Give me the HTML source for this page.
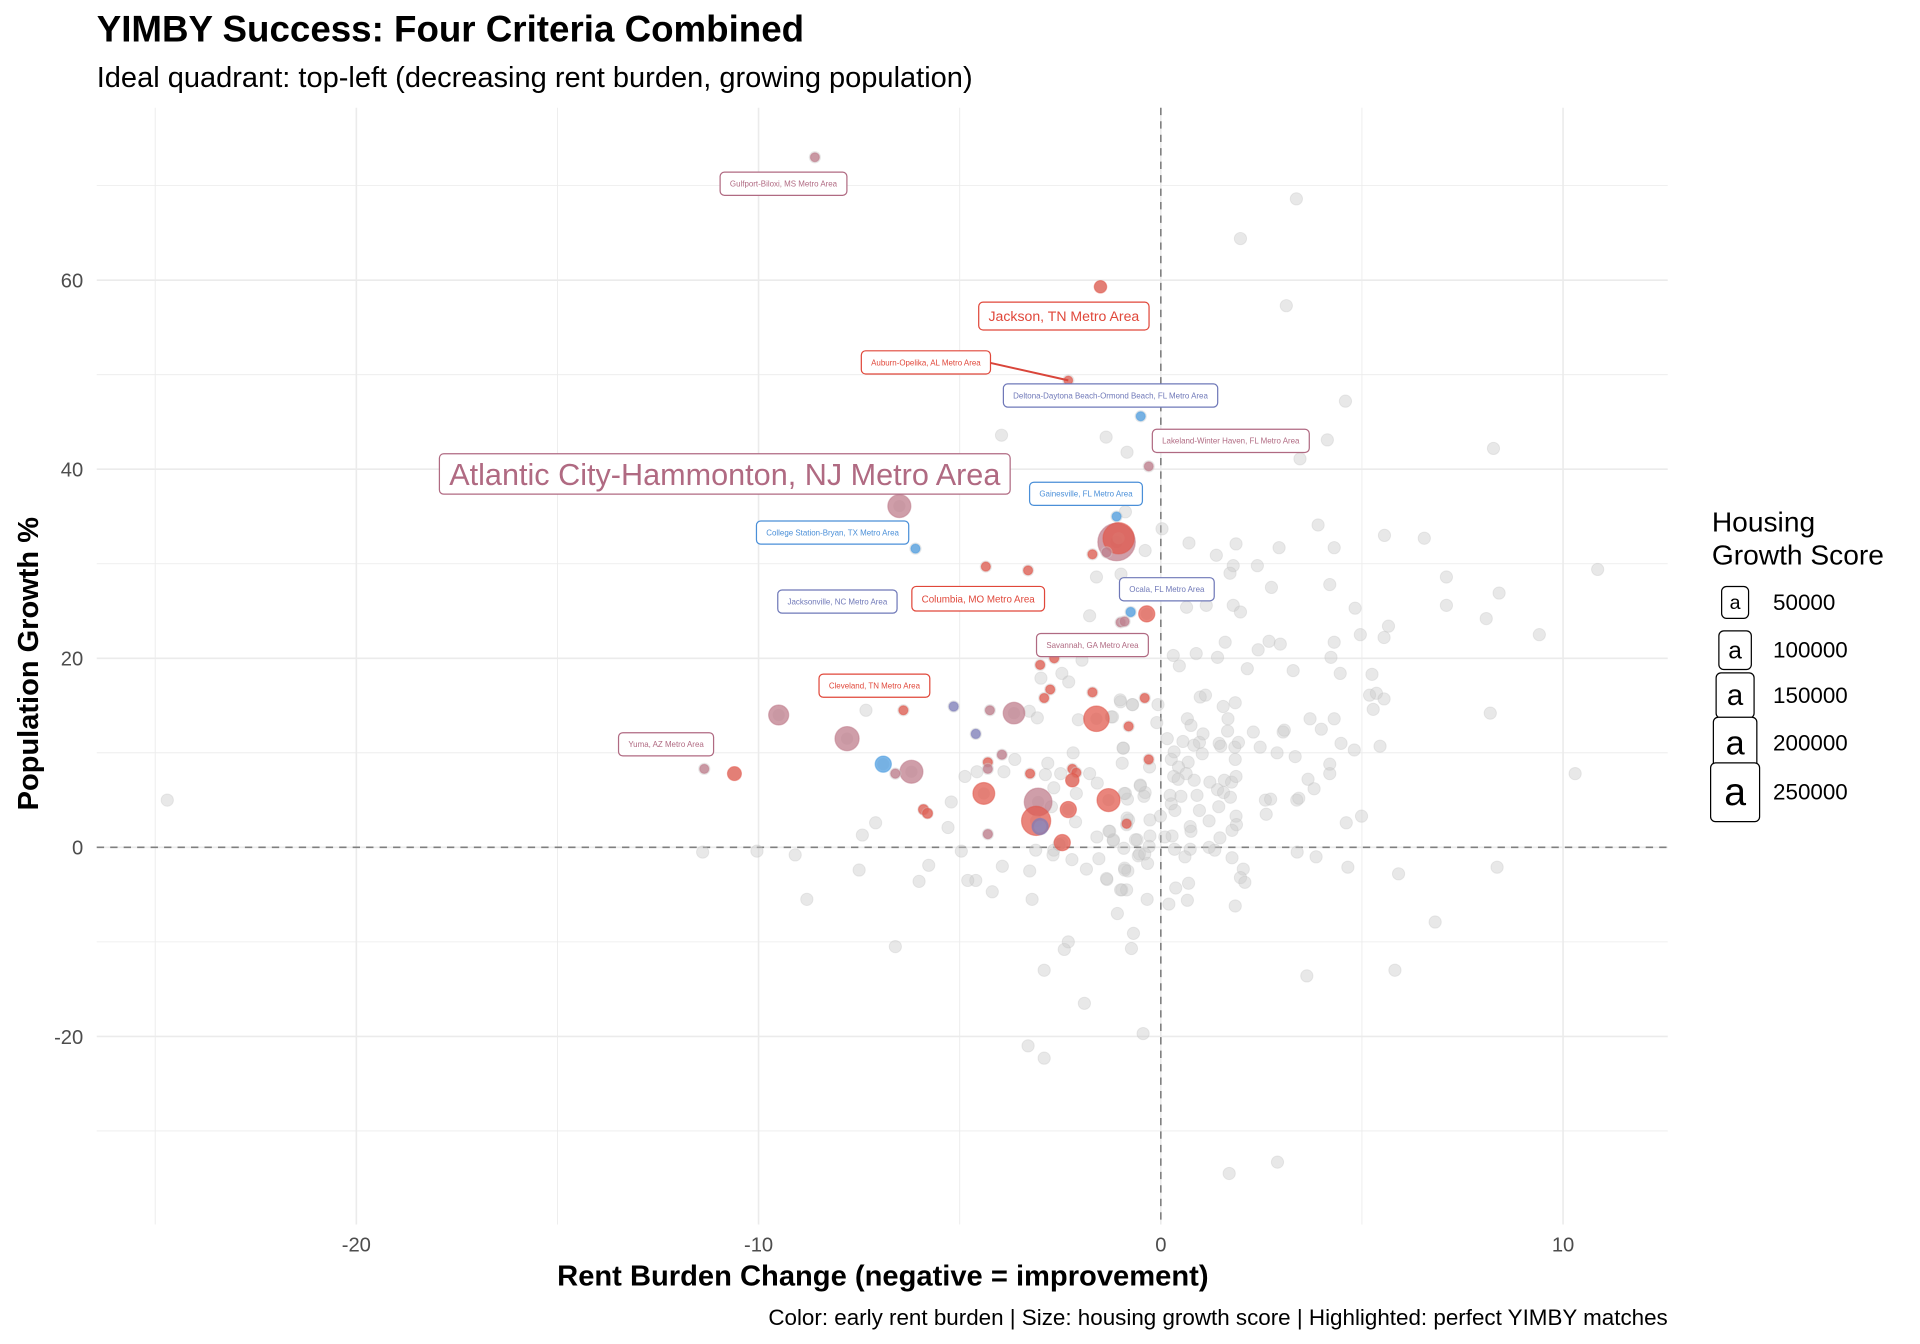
<!DOCTYPE html>
<html><head><meta charset="utf-8"><title>YIMBY Success</title>
<style>
html,body{margin:0;padding:0;background:#fff;}
svg{display:block;font-family:"Liberation Sans",Arial,sans-serif;}
</style></head>
<body>
<svg id="chart" width="1920" height="1344" viewBox="0 0 1568 1097.6" xmlns="http://www.w3.org/2000/svg">
<rect x="0" y="0" width="1568" height="1097.6" fill="#fff"/>
<text x="79" y="34" font-size="30" font-weight="bold" fill="#000">YIMBY Success: Four Criteria Combined</text>
<text x="79" y="71" font-size="23.7" fill="#000">Ideal quadrant: top-left (decreasing rent burden, growing population)</text>
<g id="grid"></g>
<g id="refs"></g>
<g id="grey"></g>
<g id="hi"></g>
<g id="labels"></g>
<g id="ticks"></g>
<text x="721" y="1050" font-size="23.8" font-weight="bold" text-anchor="middle" fill="#000">Rent Burden Change (negative = improvement)</text>
<text transform="translate(31,542) rotate(-90)" font-size="23.7" font-weight="bold" text-anchor="middle" fill="#000">Population Growth %</text>
<text x="1362" y="1082" font-size="18.3" text-anchor="end" fill="#000">Color: early rent burden | Size: housing growth score | Highlighted: perfect YIMBY matches</text>
<g>
<text x="1398" y="434" font-size="23" fill="#000">Housing</text>
<text x="1398" y="461" font-size="23" fill="#000">Growth Score</text>
<g id="legend"></g>
</g>
</svg>
<script>
// ---- data ----
const greyX=[3.37,1.98,3.12,4.59,4.14,3.46,8.27,-1.36,-0.84,0.03,0.7,1.38,1.87,2.94,3.91,4.31,5.56,6.55,-0.39,-0.99,-0.88,1.8,2.4,1.72,10.86,7.1,2.75,4.2,8.41,
0.64,1.13,1.8,1.98,4.83,7.1,8.09,5.66,5.55,4.96,9.41,4.31,2.69,2.97,2.42,1.6,0.31,0.88,1.41,0.46,4.23,2.15,3.29,4.46,5.25,5.19,5.36,5.55,5.28,8.19,0.98,1.11,1.55,1.85,-1,-0.7,-0.07,-1.23,-0.1,0.66,0.75,1.67,1.66,1.05,0.96,2.3,3.04,3.07,3.71,3.99,4.31,0.16,0.55,0.82,1.45,1.49,1.84,1.93,2.47,2.89,3.34,4.48,4.81,5.45,-0.93,-0.96,0.33,0.26,0.68,1.03,1.85,-0.28,0.44,0.63,0.32,0.43,0.83,1.22,1.58,1.76,1.87,-0.51,-0.39,-0.88,-0.83,0.23,0.5,0.9,1.41,1.56,1.73,1.44,0.26,0.35,0.96,1.87,1.88,1.2,2.6,2.73,3.38,3.43,3.66,3.81,4.2,4.2,2.62,4.61,4.99,10.3,-0.27,-0.01,-0.85,-0.8,0.73,0.75,1.77,1.47,0.28,-0.27,-0.59,-1.18,-1.27,0.34,0.73,1.2,1.34,0.1,-0.92,-0.56,-0.33,0.6,1.77,2.05,3.39,3.86,4.65,5.91,8.36,-0.9,-0.82,-1.34,-0.97,-0.85,0.37,0.69,0.66,1.98,2.09,-0.34,0.2,1.85,-1.08,6.82,-0.68,-0.73,3.63,5.82,-0.44,
-1.6,-1.77,-1.96,-2.46,-2.98,-2.29,-1.01,-0.71,-1.2,-3.27,-3.07,-2.05,-7.33,-0.94,-2.81,-2.18,-3.63,-3.9,-4.87,-4.57,-2.87,-2.49,-1.77,-1.58,-2.66,-2.1,-0.91,-0.51,-0.42,-2.12,-2.72,-0.84,-1.59,-1.29,-1.18,-0.63,-5.21,-5.29,-7.09,-7.42,-11.39,-10.04,-9.09,-7.5,-5.77,-6.01,-4.96,-3.94,-3.26,-4.6,-4.19,-2.66,-2.21,-1.85,-1.54,-1.35,-1.0,-0.9,-0.29,-0.53,-2.68,-3.11,-2.53,
-8.8,-6.6,-2.3,-2.4,-2.9,-1.9,-3.3,-2.9,1.7,2.9,-24.7,-3.2,-4.8,-3.96,-0.4];
const greyY=[68.6,64.4,57.3,47.2,43.1,41.1,42.2,43.4,41.8,33.7,32.2,30.9,32.1,31.7,34.1,31.7,33,32.7,31.4,28.9,35.5,29.8,29.8,29,29.4,28.6,27.5,27.8,26.9,
25.4,25.6,25.6,24.9,25.3,25.6,24.2,23.4,22.2,22.5,22.5,21.7,21.8,21.5,20.9,21.7,20.3,20.5,20.1,19.2,20.1,18.9,18.7,18.4,18.3,16.1,16.3,15.7,14.6,14.2,15.9,16.1,14.9,15.3,15.4,15.1,15.1,13.8,13.2,13.6,12.9,13.6,12.3,12,11.1,12.2,12.2,12.4,13.6,12.5,13.6,11.5,11.2,10.8,11,10.7,10.6,11.1,10.6,10,9.6,11,10.3,10.7,10.5,8.9,10.1,9.3,9,9.9,9.3,8.5,8.5,7.8,7.5,7.2,7.1,6.9,7.1,6.9,7.5,6.6,5.8,5.7,5.1,5.5,5.4,5.5,6.1,5.8,5.3,4.3,4.6,3.9,3.9,3.3,2.4,2.8,5,5.1,5,5.2,7.2,6.2,8.8,7.8,3.5,2.6,3.3,7.8,2.9,3.3,2.4,2.9,2.2,1.7,1.8,1,1.2,1.2,0.8,0.7,1.7,-0.2,-0.2,0,-0.3,1.1,-0.1,-0.9,-1.7,-1,-1.1,-2.3,-0.5,-1,-2.1,-2.8,-2.1,-2.2,-2.5,-3.4,-4.5,-4.5,-4.3,-3.8,-5.6,-3.2,-3.7,-5.5,-6,-6.2,-7,-7.9,-9.1,-10.7,-13.6,-13,-19.7,
28.6,24.5,19.8,18.4,17.9,17.5,15.6,15.1,13.8,14.4,13.7,13.5,14.5,10.5,8.9,10,9.3,8,7.5,8,7.7,7.8,7.8,6.8,6.3,5.7,5.7,6.5,5.4,2.7,4.3,3.1,1.1,1.7,0.8,0.8,4.8,2.1,2.6,1.3,-0.5,-0.4,-0.8,-2.4,-1.9,-3.6,-0.4,-2,-2.5,-3.5,-4.7,-0.3,-1.3,-2.3,-1.2,-3.3,-4.5,-2.4,0.1,-0.7,-0.8,-0.3,0.3,
-5.5,-10.5,-10,-10.8,-13,-16.5,-21,-22.3,-34.5,-33.3,5,-5.5,-3.5,43.6,-0.7];
// highlighted YIMBY matches
const hiX=[-8.6,-1.5,-2.3,-0.5,-0.3,-6.5,-1.1,-6.1,-1.1,-1.05,-1.7,-1.35,-4.35,-3.3,-0.75,-1.0,-0.9,-0.35,-3.0,-2.65,-1.7,-0.4,-2.75,-2.9,-5.15,-6.4,-4.25,-3.65,-9.5,-1.6,-0.8,-4.6,-7.8,-3.95,-4.3,-4.3,-11.35,-10.6,-6.9,-6.2,-6.6,-3.25,-2.2,-2.1,-2.2,-0.3,-4.4,-3.05,-3.1,-3.0,-2.3,-1.3,-0.85,-5.9,-5.8,-4.3,-2.45];
const hiY=[73,59.3,49.4,45.6,40.3,36.1,35,31.6,32.3,32.7,31,31.2,29.7,29.3,24.9,23.8,23.9,24.7,19.3,20,16.4,15.8,16.7,15.8,14.9,14.5,14.5,14.2,14,13.6,12.8,12,11.5,9.8,9,8.3,8.3,7.8,8.8,8,7.8,7.8,8.3,7.9,7.1,9.3,5.7,4.8,2.8,2.2,4,5,2.5,4,3.6,1.4,0.5];
const hiScore=[700,5000,500,800,700,42000,800,800,150000,95000,800,900,800,800,900,800,800,14000,800,800,800,800,800,800,900,800,800,35000,28000,56000,800,900,48000,900,800,800,800,8000,14000,42000,900,800,800,800,7000,800,36000,70000,80000,14000,14000,42000,900,1500,1500,900,14000];
const hiCat=["m","r","r","b","m","m","b","b","m","r","r","m","r","r","b","m","m","r","r","r","r","r","r","r","p","r","m","m","m","r","r","p","m","m","r","m","m","r","b","m","m","r","r","r","r","r","r","m","r","p","r","r","r","r","r","m","r"];
// labels
const labText=["Gulfport-Biloxi, MS Metro Area","Jackson, TN Metro Area","Auburn-Opelika, AL Metro Area","Deltona-Daytona Beach-Ormond Beach, FL Metro Area","Lakeland-Winter Haven, FL Metro Area","Atlantic City-Hammonton, NJ Metro Area","Gainesville, FL Metro Area","College Station-Bryan, TX Metro Area","Ocala, FL Metro Area","Jacksonville, NC Metro Area","Columbia, MO Metro Area","Savannah, GA Metro Area","Cleveland, TN Metro Area","Yuma, AZ Metro Area"];
const labX=[-9.38,-2.41,-5.84,-1.25,1.74,-10.84,-1.86,-8.16,0.15,-8.04,-4.54,-1.7,-7.12,-12.3];
const labY=[70.2,56.2,51.3,47.8,43.0,39.5,37.4,33.3,27.3,26.0,26.3,21.4,17.1,10.9];
const labCat=["m","r","r","p","m","m","b","b","p","p","r","m","r","m"];
const labSize=[6.5,11.5,6.5,6.5,6.5,25,6.5,6.5,6.5,6.5,8,6.5,6.5,6.5];
const xTicks=[-20,-10,0,10];
const yTicks=[-20,0,20,40,60];
const legVals=[50000,100000,150000,200000,250000];

// ---- scales ----
const P={l:79,r:1362,t:88,b:1000};
function sx(v){return 948+v*32.85;}
function sy(v){return 692-v*7.72;}
const NS="http://www.w3.org/2000/svg";
function mk(tag,parent,attrs){const e=document.createElementNS(NS,tag);for(const k in attrs)e.setAttribute(k,attrs[k]);parent.appendChild(e);return e;}
const col={r:"#e0564a",m:"#bd7888",b:"#4a9be0",p:"#7b7cba"};
const lcol={r:"#e0473a",m:"#b06a82",b:"#4a8fd8",p:"#6f78b8"};

// grid
const grid=document.getElementById('grid');
for(let v=-25;v<=10;v+=5){
  const l=mk('line',grid,{x1:sx(v),x2:sx(v),y1:P.t,y2:P.b,stroke:'#ebebeb','stroke-width':v%10===0?1.3:0.7});
  
  
}
for(let v=-30;v<=70;v+=10){
  const l=mk('line',grid,{x1:P.l,x2:P.r,y1:sy(v),y2:sy(v),stroke:'#ebebeb','stroke-width':v%20===0?1.3:0.7});
  
  
}
const refs=document.getElementById('refs');
const rv=mk('line',refs,{x1:sx(0),x2:sx(0),y1:P.t,y2:P.b,stroke:'#7f7f7f','stroke-width':1.3,'stroke-dasharray':'6,5'});


const rh=mk('line',refs,{x1:P.l,x2:P.r,y1:sy(0),y2:sy(0),stroke:'#7f7f7f','stroke-width':1.3,'stroke-dasharray':'6,5'});



// grey points
const grey=document.getElementById('grey');
for(let i=0;i<greyX.length;i++){
  const c=mk('circle',grey,{cx:sx(greyX[i]),cy:sy(greyY[i]),r:5,fill:'#c8c8c8','fill-opacity':0.42,stroke:'#bdbdbd','stroke-opacity':0.3,'stroke-width':0.8});
  
  
}
// highlighted points
const hi=document.getElementById('hi');
for(let i=0;i<hiX.length;i++){
  const h=mk('circle',hi,{cx:sx(hiX[i]),cy:sy(hiY[i]),r:5,fill:'#cfcfcf','fill-opacity':0.45});
  
  
  const r=2.8+Math.sqrt(hiScore[i])/31;
  const c=mk('circle',hi,{cx:sx(hiX[i]),cy:sy(hiY[i]),r:r,fill:col[hiCat[i]],'fill-opacity':0.72,stroke:col[hiCat[i]],'stroke-opacity':0.5,'stroke-width':1});
  
  
}
// labels
const labs=document.getElementById('labels');
const seg=mk('line',labs,{x1:sx(labX[2])+51,y1:sy(labY[2]),x2:sx(-2.3),y2:sy(49.4),stroke:'#d9453a','stroke-width':1.6});


for(let i=0;i<labText.length;i++){
  const g=mk('g',labs,{});
  
  
  const fs=labSize[i];
  const rect=mk('rect',g,{fill:'#fff',stroke:lcol[labCat[i]],'stroke-width':1,rx:3.5});
  const t=mk('text',g,{x:sx(labX[i]),y:sy(labY[i])+fs*0.36,'font-size':fs,'text-anchor':'middle',fill:lcol[labCat[i]]});
  t.textContent=labText[i];
  const w=t.getComputedTextLength();
  const px=8,py=7-0.12*fs;
  rect.setAttribute('x',sx(labX[i])-w/2-px);
  rect.setAttribute('y',sy(labY[i])-fs*0.5-py);
  rect.setAttribute('width',w+2*px);
  rect.setAttribute('height',fs+2*py);
}
// ticks
const tk=document.getElementById('ticks');
xTicks.forEach(v=>{
  const t=mk('text',tk,{x:sx(v),y:1022,'font-size':16.5,'text-anchor':'middle',fill:'#4d4d4d'});
  
  
  t.textContent=v;
});
yTicks.forEach(v=>{
  const t=mk('text',tk,{x:68,y:sy(v)+6,'font-size':16.5,'text-anchor':'end',fill:'#4d4d4d'});
  
  
  t.textContent=v;
});
// legend
const leg=document.getElementById('legend');
const legY=[492,531,568,607,647];
legVals.forEach((v,i)=>{
  const g=mk('g',leg,{});
  
  
  const fs=16+i*4;
  const w=22+i*4.5,h=26+i*5.5;
  mk('rect',g,{x:1417-w/2,y:legY[i]-h/2,width:w,height:h,rx:4,fill:'#fff',stroke:'#000','stroke-width':1});
  const a=mk('text',g,{x:1417,y:legY[i]+fs*0.33,'font-size':fs,'text-anchor':'middle',fill:'#000'});
  a.textContent='a';
  const t=mk('text',g,{x:1448,y:legY[i]+6,'font-size':18.3,fill:'#000'});
  t.textContent=v;
});
</script>
</body></html>
